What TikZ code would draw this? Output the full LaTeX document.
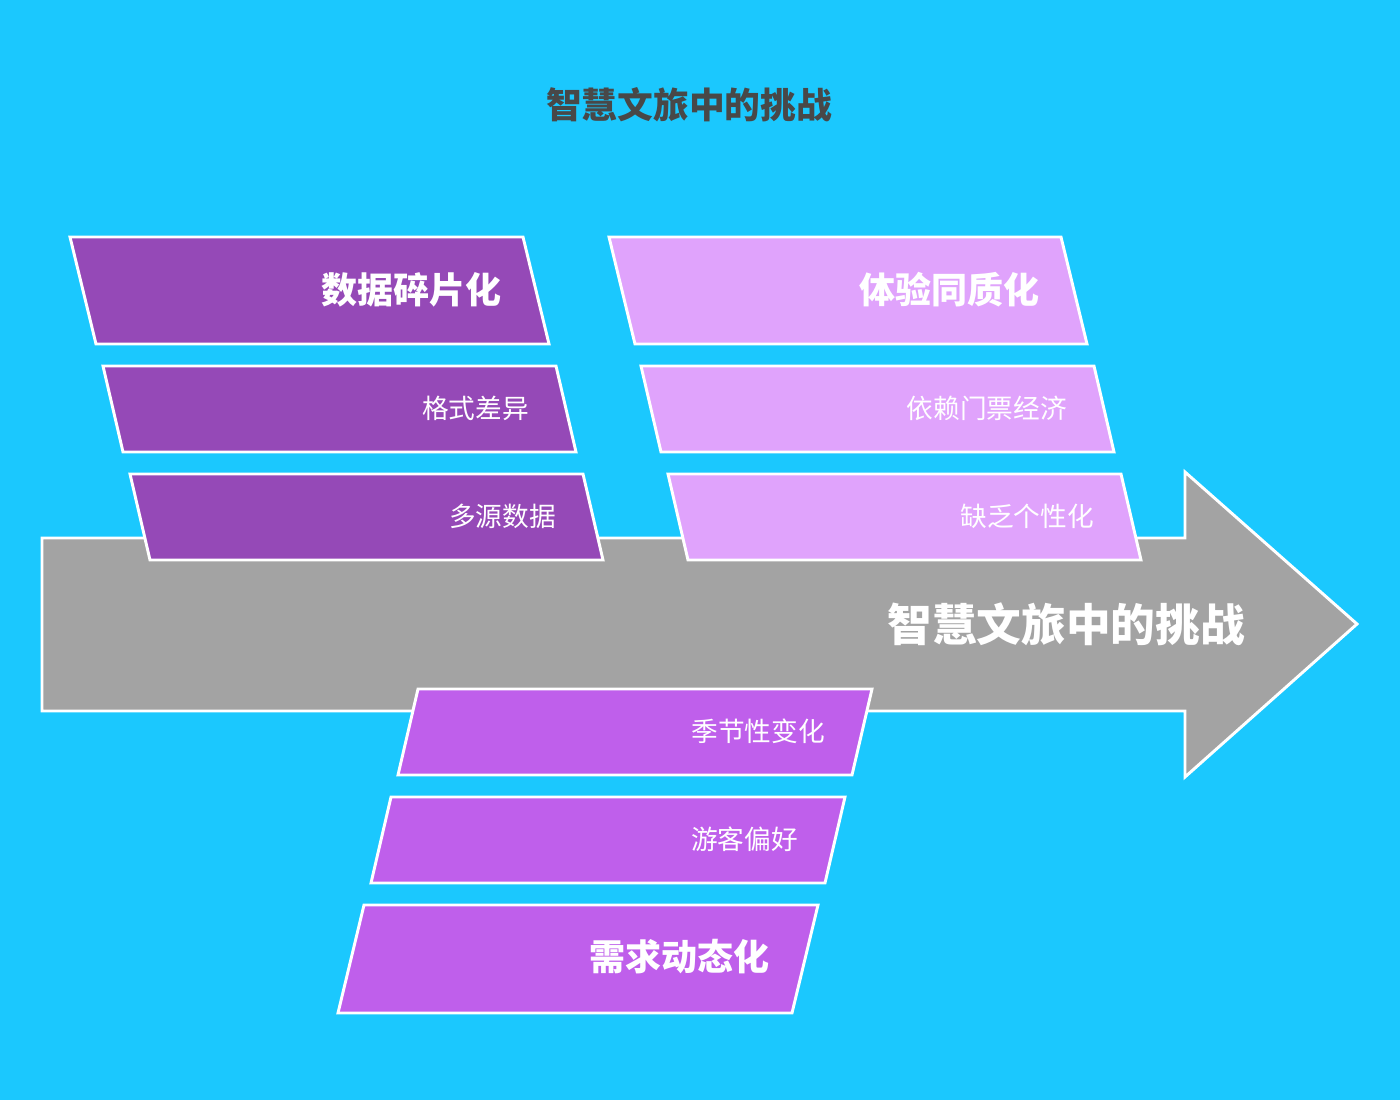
\documentclass[tikz,border=0pt]{standalone}
\usepackage{fontspec}
\usepackage{tikz}
\usetikzlibrary{positioning}
\newfontfamily\cjk{Noto Sans CJK SC}
\definecolor{skycyan}{HTML}{1BC8FE}
\definecolor{spinegray}{HTML}{A3A3A3}
\definecolor{darkviolet}{HTML}{9549B7}
\definecolor{paleviolet}{HTML}{E0A3FC}
\definecolor{midviolet}{HTML}{BF5FEB}
\definecolor{titlegray}{HTML}{484848}

\begin{document}
\begin{tikzpicture}[x=0.75pt,y=-0.75pt,
                    card/.style={draw=white,line width=2.2pt,line join=miter},
                    head label/.style={anchor=east,inner sep=0pt,text=white,font=\cjk\bfseries\fontsize{27}{30}\selectfont},
                    sub label/.style={anchor=east,inner sep=0pt,text=white,font=\cjk\fontsize{20}{24}\selectfont}
                   ]

  \fill[skycyan] (0,0) rectangle (1400,1100);
  \useasboundingbox (0,0) rectangle (1400,1100);

  \node[text=titlegray,font=\cjk\bfseries\fontsize{26.8}{30}\selectfont] (title) at (689,105) {智慧文旅中的挑战};

  % spine arrow
  \draw[card,fill=spinegray] (42,538) -- (1185,538) -- (1185,472) -- (1357,624)
        -- (1185,777) -- (1185,711) -- (42,711) -- cycle;
  \node[text=white,font=\cjk\bfseries\fontsize{33.5}{36}\selectfont] (spine) at (1066,624) {智慧文旅中的挑战};

  % upper left
  \draw[card,fill=darkviolet] (70,237) -- (523,237) -- (549,344) -- (96,344) -- cycle;
  \draw[card,fill=darkviolet] (103,366) -- (556,366) -- (576,452) -- (123,452) -- cycle;
  \draw[card,fill=darkviolet] (130,474) -- (583,474) -- (603,560) -- (150,560) -- cycle;
  \node[head label] (data) at (502,290) {数据碎片化};
  \node[sub label] (format) at (529,408) {格式差异};
  \node[sub label] (source) at (556,516) {多源数据};

  % upper right
  \draw[card,fill=paleviolet] (609,237) -- (1061,237) -- (1087,344) -- (635,344) -- cycle;
  \draw[card,fill=paleviolet] (641,366) -- (1094,366) -- (1114,452) -- (661,452) -- cycle;
  \draw[card,fill=paleviolet] (668,474) -- (1121,474) -- (1141,560) -- (688,560) -- cycle;
  \node[head label] (same) at (1040,290) {体验同质化};
  \node[sub label] (ticket) at (1067,408) {依赖门票经济};
  \node[sub label] (person) at (1094,516) {缺乏个性化};

  % lower
  \draw[card,fill=midviolet] (418,689) -- (872,689) -- (852,775) -- (398,775) -- cycle;
  \draw[card,fill=midviolet] (391,797) -- (845,797) -- (825,883) -- (371,883) -- cycle;
  \draw[card,fill=midviolet] (364,905) -- (818,905) -- (792,1013) -- (338,1013) -- cycle;
  \node[sub label] (season) at (825,731) {季节性变化};
  \node[sub label] (taste) at (798,839) {游客偏好};
  \node[head label] (demand) at (770,957) {需求动态化};
\end{tikzpicture}
\end{document}
